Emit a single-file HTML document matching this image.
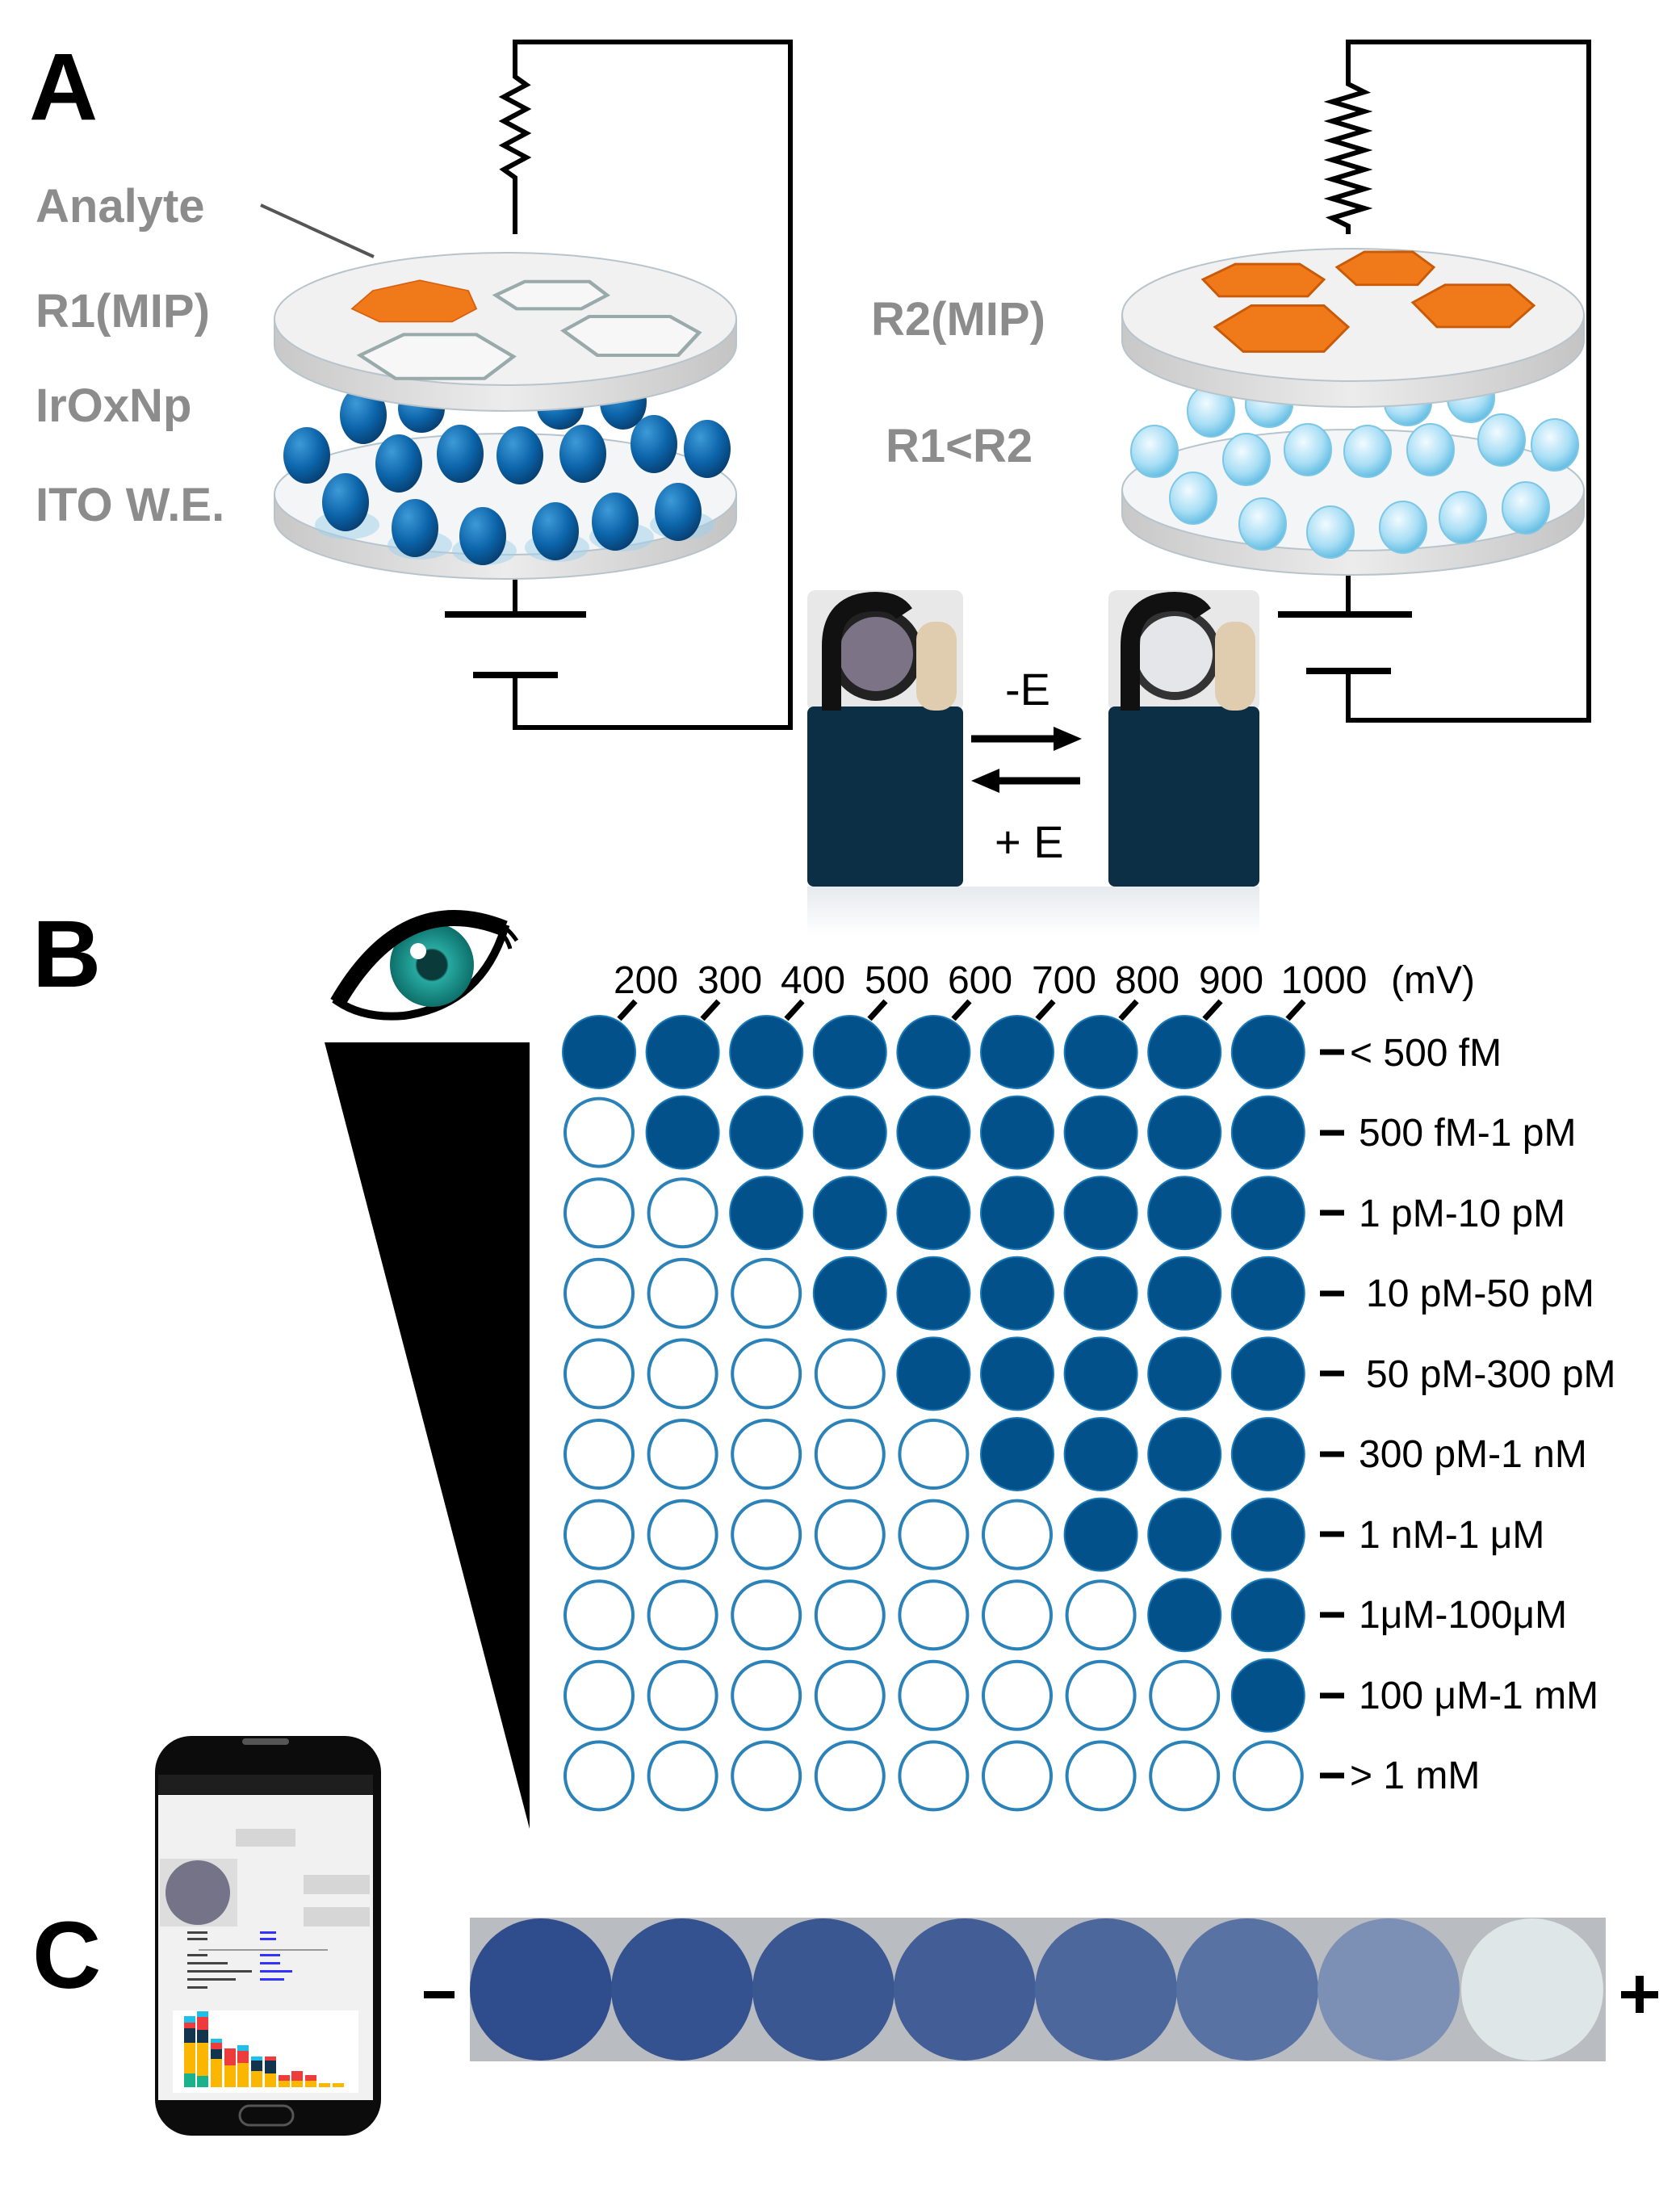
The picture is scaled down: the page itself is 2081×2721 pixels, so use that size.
<!DOCTYPE html>
<html><head><meta charset="utf-8"><style>
html,body{margin:0;padding:0;background:#fff;}
svg{display:block;}
text{font-family:"Liberation Sans",sans-serif;}
</style></head><body>
<svg width="2081" height="2721" viewBox="0 0 2081 2721" xmlns="http://www.w3.org/2000/svg">
<defs>
<radialGradient id="ball" cx="0.35" cy="0.3" r="0.75"><stop offset="0" stop-color="#3d9ad8"/><stop offset="0.6" stop-color="#0b63a8"/><stop offset="1" stop-color="#073e70"/></radialGradient>
<radialGradient id="lball" cx="0.4" cy="0.35" r="0.7"><stop offset="0" stop-color="#f2fbff"/><stop offset="0.6" stop-color="#a8def5"/><stop offset="1" stop-color="#5ab8e0"/></radialGradient>
<linearGradient id="edge" x1="0" y1="0" x2="1" y2="0"><stop offset="0" stop-color="#c8c8c8"/><stop offset="0.5" stop-color="#ececec"/><stop offset="1" stop-color="#c4c4c4"/></linearGradient>
<radialGradient id="iris" cx="0.5" cy="0.5" r="0.5"><stop offset="0" stop-color="#0a3a3a"/><stop offset="0.35" stop-color="#0a3a3a"/><stop offset="0.4" stop-color="#27a9a0"/><stop offset="1" stop-color="#0d6f6a"/></radialGradient>
<linearGradient id="strip" x1="0" y1="0" x2="0" y2="1"><stop offset="0" stop-color="#e6eaee"/><stop offset="1" stop-color="#ffffff"/></linearGradient>
</defs>

<text x="36" y="148" font-size="118" font-weight="bold">A</text>
<text x="40" y="1222" font-size="118" font-weight="bold">B</text>
<text x="40" y="2462" font-size="118" font-weight="bold">C</text>

<g fill="#8c8c8c" font-size="58" font-weight="bold">
<text x="44" y="275">Analyte</text>
<text x="44" y="405">R1(MIP)</text>
<text x="44" y="522">IrOxNp</text>
<text x="44" y="645">ITO W.E.</text>
<text x="1079" y="415">R2(MIP)</text>
<text x="1097" y="572">R1&lt;R2</text>
</g>
<line x1="323" y1="254" x2="463" y2="318" stroke="#555" stroke-width="4"/>

<g stroke="#000" stroke-width="6" fill="none">
<polyline points="638,290 638,220 624,210 652,195 624,180 652,165 624,150 652,135 624,120 652,105 638,95 638,52 979,52 979,901 638,901 638,836"/>
<line x1="638" y1="700" x2="638" y2="761"/>
<line x1="551" y1="761" x2="726" y2="761" stroke-width="8"/>
<line x1="586" y1="836" x2="691" y2="836" stroke-width="8"/>
</g>
<g stroke="#000" stroke-width="6" fill="none">
<polyline points="1670,290 1670,280 1650,270 1690,258 1650,246 1690,234 1650,222 1690,210 1650,198 1690,186 1650,174 1690,162 1650,150 1690,138 1650,126 1690,114 1670,104 1670,52 1968,52 1968,892 1670,892 1670,831"/>
<line x1="1670" y1="700" x2="1670" y2="761"/>
<line x1="1583" y1="761" x2="1749" y2="761" stroke-width="8"/>
<line x1="1618" y1="831" x2="1723" y2="831" stroke-width="8"/>
</g>

<!-- Left discs -->
<g>
<path d="M340,612 L340,642 A286,75 0 0 0 912,642 L912,612 Z" fill="url(#edge)" stroke="#b8c4cc" stroke-width="2"/>
<ellipse cx="626" cy="612" rx="286" ry="75" fill="#f3f5f6" stroke="#b8c4cc" stroke-width="2"/>
<g fill="#9fd0ec" opacity="0.5"><ellipse cx="430" cy="650" rx="40" ry="18"/><ellipse cx="520" cy="675" rx="40" ry="18"/><ellipse cx="600" cy="682" rx="40" ry="18"/><ellipse cx="690" cy="678" rx="40" ry="18"/><ellipse cx="770" cy="665" rx="40" ry="18"/><ellipse cx="845" cy="650" rx="40" ry="18"/></g>
<g fill="url(#ball)" transform="translate(0,-60)">
<ellipse cx="450" cy="574" rx="29" ry="36"/><ellipse cx="522" cy="566" rx="29" ry="30"/><ellipse cx="694" cy="564" rx="29" ry="28"/><ellipse cx="772" cy="558" rx="29" ry="34"/>
<ellipse cx="380" cy="624" rx="29" ry="35"/><ellipse cx="494" cy="634" rx="29" ry="36"/><ellipse cx="570" cy="622" rx="29" ry="36"/><ellipse cx="644" cy="624" rx="29" ry="36"/><ellipse cx="722" cy="622" rx="29" ry="36"/><ellipse cx="810" cy="610" rx="29" ry="36"/><ellipse cx="876" cy="616" rx="29" ry="36"/>
<ellipse cx="428" cy="682" rx="29" ry="36"/><ellipse cx="514" cy="714" rx="29" ry="36"/><ellipse cx="598" cy="724" rx="29" ry="36"/><ellipse cx="688" cy="718" rx="29" ry="36"/><ellipse cx="762" cy="706" rx="29" ry="36"/><ellipse cx="840" cy="694" rx="29" ry="36"/>
</g>
<path d="M340,395 L340,427 A286,82 0 0 0 912,427 L912,395 Z" fill="url(#edge)" stroke="#b8c4cc" stroke-width="2"/>
<ellipse cx="626" cy="395" rx="286" ry="82" fill="#f1f1f1" stroke="#b8c4cc" stroke-width="2"/>
<g transform="translate(0,80) scale(1,0.8)">
<polygon points="462,350 520,334 580,350 590,378 560,398 470,398 436,378" fill="#f07a1a" stroke="#d86010" stroke-width="2"/>
<polygon points="614,357 650,336 730,336 752,357 720,378 640,378" fill="#f7f7f7" stroke="#9aa" stroke-width="5"/>
<polygon points="698,412 730,390 830,390 866,415 840,450 740,450" fill="#f7f7f7" stroke="#9aa" stroke-width="5"/>
<polygon points="446,450 500,418 590,418 636,452 600,486 490,486" fill="#f7f7f7" stroke="#9aa" stroke-width="5"/>
</g>
</g>

<!-- Right discs -->
<g transform="translate(1050,-5)">
<path d="M340,612 L340,642 A286,75 0 0 0 912,642 L912,612 Z" fill="url(#edge)" stroke="#b8c4cc" stroke-width="2"/>
<ellipse cx="626" cy="612" rx="286" ry="75" fill="#f3f5f6" stroke="#b8c4cc" stroke-width="2"/>
<g fill="url(#lball)" stroke="#7cc6e6" stroke-width="2" transform="translate(0,-60)">
<ellipse cx="450" cy="574" rx="29" ry="32"/><ellipse cx="522" cy="566" rx="29" ry="28"/><ellipse cx="694" cy="564" rx="29" ry="28"/><ellipse cx="772" cy="558" rx="29" ry="30"/>
<ellipse cx="380" cy="624" rx="29" ry="32"/><ellipse cx="494" cy="634" rx="29" ry="32"/><ellipse cx="570" cy="622" rx="29" ry="32"/><ellipse cx="644" cy="624" rx="29" ry="32"/><ellipse cx="722" cy="622" rx="29" ry="32"/><ellipse cx="810" cy="610" rx="29" ry="32"/><ellipse cx="876" cy="616" rx="29" ry="32"/>
<ellipse cx="428" cy="682" rx="29" ry="32"/><ellipse cx="514" cy="714" rx="29" ry="32"/><ellipse cx="598" cy="724" rx="29" ry="32"/><ellipse cx="688" cy="718" rx="29" ry="32"/><ellipse cx="762" cy="706" rx="29" ry="32"/><ellipse cx="840" cy="694" rx="29" ry="32"/>
</g>
<path d="M340,395 L340,427 A286,82 0 0 0 912,427 L912,395 Z" fill="url(#edge)" stroke="#b8c4cc" stroke-width="2"/>
<ellipse cx="626" cy="395" rx="286" ry="82" fill="#f1f1f1" stroke="#b8c4cc" stroke-width="2"/>
<g fill="#f07a1a" stroke="#c85a08" stroke-width="3" transform="translate(0,30) scale(1,0.95)">
<polygon points="440,338 480,318 560,318 590,338 570,360 460,360"/>
<polygon points="606,322 640,302 700,302 726,322 706,345 630,345"/>
<polygon points="700,368 740,345 820,345 850,372 820,400 730,400"/>
<polygon points="455,400 500,372 590,372 620,400 590,432 490,432"/>
</g>
</g>

<!-- Electrodes -->
<g>
<rect x="1000" y="731" width="193" height="150" rx="10" fill="#e8e8e8"/>
<rect x="1000" y="875" width="193" height="223" rx="8" fill="#0d2f45"/>
<circle cx="1085" cy="810" r="52" fill="#7c7486" stroke="#222" stroke-width="12"/>
<path d="M1030,880 L1030,800 Q1030,745 1085,745 Q1110,745 1120,760" stroke="#111" stroke-width="24" fill="none"/>
<rect x="1135" y="770" width="50" height="110" rx="22" fill="#e0cdb0"/>
<rect x="1373" y="731" width="187" height="150" rx="10" fill="#e8e8e8"/>
<rect x="1373" y="875" width="187" height="223" rx="8" fill="#0d2f45"/>
<circle cx="1455" cy="810" r="52" fill="#e4e6ea" stroke="#333" stroke-width="10"/>
<path d="M1400,880 L1400,800 Q1400,745 1455,745 Q1480,745 1490,760" stroke="#111" stroke-width="24" fill="none"/>
<rect x="1505" y="770" width="50" height="110" rx="22" fill="#e0cdb0"/>
<rect x="1000" y="1098" width="560" height="60" fill="url(#strip)"/>
</g>
<line x1="1203" y1="915" x2="1310" y2="915" stroke="#000" stroke-width="9"/>
<polygon points="1340,915 1305,900 1305,930"/>
<line x1="1230" y1="967" x2="1338" y2="967" stroke="#000" stroke-width="9"/>
<polygon points="1203,967 1238,952 1238,982"/>
<text x="1245" y="873" font-size="56">-E</text>
<text x="1232" y="1062" font-size="56">+ E</text>

<!-- Eye -->
<g>
<path d="M418,1240 Q500,1105 625,1150 Q595,1245 500,1258 Q450,1262 418,1240 Z" fill="#fff" stroke="#000" stroke-width="10"/>
<circle cx="535" cy="1195" r="52" fill="url(#iris)"/>
<circle cx="518" cy="1178" r="10" fill="#fff"/>
<path d="M418,1242 Q500,1100 625,1150" stroke="#000" stroke-width="20" fill="none"/>
<path d="M590,1140 Q620,1135 640,1165 M600,1148 Q625,1150 632,1175" stroke="#000" stroke-width="5" fill="none"/>
</g>
<polygon points="402,1291 656,1291 656,2265" fill="#000"/>

<g font-size="48">
<text x="800" y="1230" text-anchor="middle">200</text>
<text x="904" y="1230" text-anchor="middle">300</text>
<text x="1007" y="1230" text-anchor="middle">400</text>
<text x="1111" y="1230" text-anchor="middle">500</text>
<text x="1214" y="1230" text-anchor="middle">600</text>
<text x="1318" y="1230" text-anchor="middle">700</text>
<text x="1421" y="1230" text-anchor="middle">800</text>
<text x="1525" y="1230" text-anchor="middle">900</text>
<text x="1640" y="1230" text-anchor="middle">1000</text>
<text x="1723" y="1230">(mV)</text>
</g>
<g stroke="#000" stroke-width="7">
<line x1="767" y1="1262" x2="787" y2="1240"/><line x1="870" y1="1262" x2="890" y2="1240"/><line x1="974" y1="1262" x2="994" y2="1240"/><line x1="1077" y1="1262" x2="1097" y2="1240"/><line x1="1181" y1="1262" x2="1201" y2="1240"/><line x1="1285" y1="1262" x2="1305" y2="1240"/><line x1="1388" y1="1262" x2="1408" y2="1240"/><line x1="1492" y1="1262" x2="1512" y2="1240"/><line x1="1595" y1="1262" x2="1615" y2="1240"/>
</g>
<g id="circles"></g>
<g font-size="48">
<text x="1672" y="1320">&lt; 500 fM</text>
<text x="1683" y="1419">500 fM-1 pM</text>
<text x="1683" y="1519">1 pM-10 pM</text>
<text x="1692" y="1618">10 pM-50 pM</text>
<text x="1692" y="1718">50 pM-300 pM</text>
<text x="1683" y="1817">300 pM-1 nM</text>
<text x="1683" y="1917">1 nM-1 μM</text>
<text x="1683" y="2016">1μM-100μM</text>
<text x="1683" y="2116">100 μM-1 mM</text>
<text x="1672" y="2215">&gt; 1 mM</text>
</g>
<g stroke="#000" stroke-width="7">
<line x1="1635" y1="1303" x2="1665" y2="1303"/><line x1="1635" y1="1403" x2="1665" y2="1403"/><line x1="1635" y1="1502" x2="1665" y2="1502"/><line x1="1635" y1="1602" x2="1665" y2="1602"/><line x1="1635" y1="1701" x2="1665" y2="1701"/><line x1="1635" y1="1801" x2="1665" y2="1801"/><line x1="1635" y1="1900" x2="1665" y2="1900"/><line x1="1635" y1="2000" x2="1665" y2="2000"/><line x1="1635" y1="2100" x2="1665" y2="2100"/><line x1="1635" y1="2199" x2="1665" y2="2199"/>
</g>

<g>
<rect x="582" y="2375" width="1407" height="178" fill="#b9bcc0"/>
<circle cx="670" cy="2464" r="88" fill="#2f4d8c"/>
<circle cx="845" cy="2464" r="88" fill="#34528f"/>
<circle cx="1020" cy="2464" r="88" fill="#3a5792"/>
<circle cx="1195" cy="2464" r="88" fill="#435e96"/>
<circle cx="1370" cy="2464" r="88" fill="#4c679c"/>
<circle cx="1545" cy="2464" r="88" fill="#5872a3"/>
<circle cx="1720" cy="2464" r="88" fill="#7c8fb4"/>
<circle cx="1898" cy="2464" r="88" fill="#dfe6e8"/>
</g>
<rect x="525" y="2466" width="38" height="9" fill="#000"/>
<rect x="2008" y="2466" width="46" height="9" fill="#000"/>
<rect x="2026" y="2447" width="10" height="46" fill="#000"/>

<g>
<rect x="192" y="2150" width="280" height="495" rx="45" fill="#0c0c0c"/>
<rect x="300" y="2153" width="58" height="8" rx="4" fill="#555"/>
<rect x="196" y="2223" width="266" height="378" fill="#f1f1f1"/>
<rect x="196" y="2198" width="266" height="24" fill="#1e1e1e"/>
<rect x="292" y="2265" width="74" height="22" fill="#d6d6d6"/>
<rect x="376" y="2322" width="82" height="24" fill="#d6d6d6"/>
<rect x="376" y="2362" width="82" height="24" fill="#d6d6d6"/>
<rect x="198" y="2302" width="96" height="84" fill="#ddd"/>
<circle cx="245" cy="2344" r="40" fill="#757387"/>
<g fill="#444"><rect x="232" y="2392" width="25" height="3"/><rect x="232" y="2400" width="25" height="3"/><rect x="232" y="2420" width="25" height="3"/><rect x="232" y="2430" width="50" height="3"/><rect x="232" y="2440" width="80" height="3"/><rect x="232" y="2450" width="60" height="3"/><rect x="232" y="2460" width="25" height="3"/></g>
<g fill="#33f"><rect x="322" y="2392" width="20" height="3"/><rect x="322" y="2400" width="20" height="3"/><rect x="322" y="2420" width="25" height="3"/><rect x="322" y="2430" width="25" height="3"/><rect x="322" y="2440" width="40" height="3"/><rect x="322" y="2450" width="30" height="3"/></g>
<rect x="246" y="2414" width="160" height="2" fill="#999"/>
<rect x="214" y="2490" width="230" height="102" fill="#fff"/>
<g>
<rect x="228" y="2530" width="14" height="55" fill="#fbb600"/><rect x="228" y="2568" width="14" height="17" fill="#1ab28a"/><rect x="228" y="2505" width="14" height="25" fill="#12344d"/><rect x="228" y="2505" width="14" height="7" fill="#ee3b3b"/><rect x="228" y="2497" width="14" height="8" fill="#1fc0e8"/>
<rect x="244" y="2530" width="14" height="55" fill="#fbb600"/><rect x="244" y="2571" width="14" height="14" fill="#1ab28a"/><rect x="244" y="2514" width="14" height="16" fill="#12344d"/><rect x="244" y="2498" width="14" height="16" fill="#ee3b3b"/><rect x="244" y="2491" width="14" height="7" fill="#1fc0e8"/>
<rect x="261" y="2550" width="14" height="35" fill="#fbb600"/><rect x="261" y="2538" width="14" height="12" fill="#12344d"/><rect x="261" y="2530" width="14" height="8" fill="#ee3b3b"/><rect x="261" y="2525" width="14" height="5" fill="#1fc0e8"/>
<rect x="278" y="2558" width="14" height="27" fill="#fbb600"/><rect x="278" y="2537" width="14" height="21" fill="#ee3b3b"/>
<rect x="294" y="2555" width="14" height="30" fill="#fbb600"/><rect x="294" y="2540" width="14" height="15" fill="#ee3b3b"/><rect x="294" y="2533" width="14" height="7" fill="#1fc0e8"/>
<rect x="311" y="2565" width="14" height="20" fill="#fbb600"/><rect x="311" y="2552" width="14" height="13" fill="#12344d"/><rect x="311" y="2547" width="14" height="5" fill="#1fc0e8"/>
<rect x="328" y="2568" width="14" height="17" fill="#fbb600"/><rect x="328" y="2552" width="14" height="16" fill="#12344d"/><rect x="328" y="2547" width="14" height="5" fill="#ee3b3b"/>
<rect x="345" y="2577" width="14" height="8" fill="#fbb600"/><rect x="345" y="2570" width="14" height="7" fill="#ee3b3b"/>
<rect x="361" y="2577" width="14" height="8" fill="#fbb600"/><rect x="361" y="2565" width="14" height="12" fill="#ee3b3b"/>
<rect x="378" y="2577" width="14" height="8" fill="#fbb600"/><rect x="378" y="2570" width="14" height="7" fill="#ee3b3b"/>
<rect x="395" y="2580" width="14" height="5" fill="#fbb600"/><rect x="412" y="2580" width="14" height="5" fill="#fbb600"/>
</g>
<rect x="297" y="2608" width="66" height="24" rx="12" fill="none" stroke="#555" stroke-width="3"/>
</g>

<script>
(function(){
var g=document.getElementById('circles');var ns='http://www.w3.org/2000/svg';
for(var i=0;i<10;i++){for(var j=0;j<9;j++){
var c=document.createElementNS(ns,'circle');
c.setAttribute('cx',742+j*103.6);c.setAttribute('cy',1303+i*99.6);
var f=(i<9&&j>=i);
c.setAttribute('r',f?45:42);
c.setAttribute('fill',f?'#03518a':'#fff');
c.setAttribute('stroke',f?'#1a7ab8':'#2a82b8');
c.setAttribute('stroke-width',f?2:4);
g.appendChild(c);}}
})();
</script>
</svg>
</body></html>
